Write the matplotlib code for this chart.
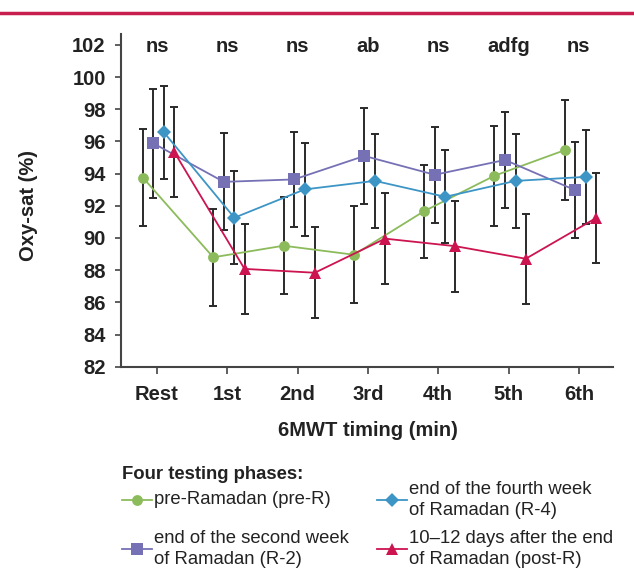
import numpy as np
import matplotlib.pyplot as plt
from matplotlib.lines import Line2D

plt.rcParams['font.family'] = ['Liberation Sans', 'DejaVu Sans']

# data
timing = ['Rest', '1st', '2nd', '3rd', '4th', '5th', '6th']
signif = ['ns', 'ns', 'ns', 'ab', 'ns', 'adfg', 'ns']

pre_r = [93.75, 88.80, 89.52, 88.96, 91.67, 93.87, 95.46]
pre_r_err = [3.02, 3.02, 3.02, 3.00, 2.89, 3.10, 3.11]
r2 = [95.88, 93.49, 93.64, 95.10, 93.93, 94.85, 92.97]
r2_err = [3.39, 3.02, 2.97, 2.98, 3.00, 2.99, 3.00]
r4 = [96.56, 91.26, 93.02, 93.55, 92.56, 93.55, 93.80]
r4_err = [2.90, 2.90, 2.90, 2.90, 2.90, 2.90, 2.90]
post_r = [95.35, 88.08, 87.84, 89.96, 89.49, 88.71, 91.24]
post_r_err = [2.82, 2.81, 2.82, 2.81, 2.82, 2.81, 2.81]

W, H = 634, 581


def fx(px):
    return px / W


def fy(py):
    return 1 - py / H


series = [
    (pre_r, pre_r_err, '#8cbb5c', 'o', 7.8, -0.20, 'pre-Ramadan (pre-R)'),
    (r2, r2_err, '#7671b5', 's', 8.2, -0.05, 'end of the second week\nof Ramadan (R-2)'),
    (r4, r4_err, '#3d95c6', 'D', 7.4, 0.10, 'end of the fourth week\nof Ramadan (R-4)'),
    (post_r, post_r_err, '#cc1450', '^', 8.5, 0.245, '10\u201312 days after the end\nof Ramadan (post-R)'),
]

fig = plt.figure(figsize=(W / 100, H / 100), dpi=100)
ax = fig.add_axes([fx(121), fy(366.7), (613 - 121) / W, (366.7 - 34) / H])

x = np.arange(len(timing))
for vals, errs, color, marker, ms, off, label in series:
    ax.errorbar(x + off, vals, yerr=errs, fmt='none', ecolor='#2a2a2a',
                elinewidth=1.4, capsize=2.8, capthick=1.4, zorder=2)
for vals, errs, color, marker, ms, off, label in series:
    ax.plot(x + off, vals, color=color, lw=1.3, marker=marker, ms=ms,
            markeredgewidth=0, zorder=3)

for i, s in enumerate(signif):
    ax.text(i, 102, s, ha='center', va='center_baseline', fontsize=14.5,
            fontweight='bold', color='#222222')

ax.set_xlim(-0.512, 6.486)
ax.set_ylim(82, 102.68)
ax.set_xticks(x)
ax.set_xticklabels(timing, fontsize=14.5, fontweight='bold', color='#222222')
ax.set_yticks(np.arange(82, 103, 2))
ax.set_yticklabels([str(v) for v in range(82, 103, 2)], fontsize=14.5,
                   fontweight='bold', color='#222222')
ax.tick_params(axis='y', direction='out', length=4.5, width=1.2, pad=6.5, colors='#444444',
               labelcolor='#222222')
ax.tick_params(axis='x', direction='out', length=5, width=1.2, pad=8.5, colors='#444444',
               labelcolor='#222222')
for sp in ['top', 'right']:
    ax.spines[sp].set_visible(False)
for sp in ['left', 'bottom']:
    ax.spines[sp].set_linewidth(1.5)
    ax.spines[sp].set_color('#444444')

fig.text(fx(28), fy(206), 'Oxy-sat (%)', rotation=90, ha='center', va='center',
         fontsize=14.5, fontweight='bold', color='#222222')
fig.text(fx(367.7), fy(431), '6MWT timing (min)', ha='center', va='center',
         fontsize=14.5, fontweight='bold', color='#222222')

# red rule at the top
fig.add_artist(Line2D([0, 1], [fy(13), fy(13)], transform=fig.transFigure,
                      color='#c81e4e', lw=2.5))

# legend, built by hand so rows line up
fig.text(fx(122), fy(479), 'Four testing phases:', ha='left', va='baseline',
         fontsize=13.3, fontweight='bold', color='#222222')
slots = [(122, 500), (122, 549), (377, 500), (377, 549)]
for (vals, errs, color, marker, ms, off, label), (lx, ly) in zip(series, slots):
    fig.add_artist(Line2D([fx(lx), fx(lx + 15), fx(lx + 30)], [fy(ly)] * 3,
                          transform=fig.transFigure, color=color, lw=1.3,
                          marker=marker, ms=ms, markevery=[1], markeredgewidth=0))
    fig.text(fx(lx + 32), fy(ly), label, ha='left', va='center', fontsize=13.3,
             color='#222222', linespacing=1.3)

fig.savefig('out.png', dpi=100)
